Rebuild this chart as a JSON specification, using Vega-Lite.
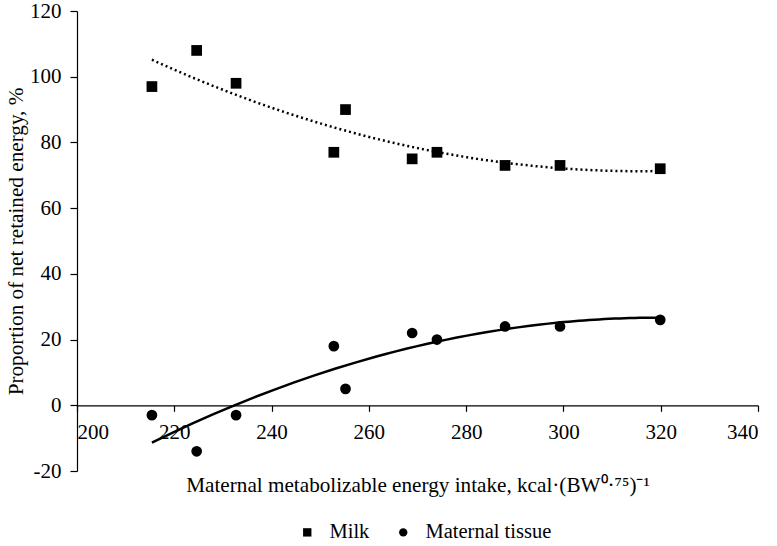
{
  "$schema": "https://vega.github.io/schema/vega-lite/v6.json",
  "width": 681,
  "height": 460,
  "autosize": {"type": "none"},
  "padding": {"left": 77, "top": 11, "right": 19, "bottom": 75},
  "background": "white",
  "config": {
    "view": {"stroke": null},
    "font": "Liberation Serif",
    "axis": {"grid": false, "domainColor": "#000", "tickColor": "#000", "labelColor": "#000", "titleColor": "#000", "labelFont": "Liberation Serif", "titleFont": "Liberation Serif", "labelFontSize": 21, "titleFontSize": 21.2, "titleFontWeight": "normal", "domainWidth": 1.2, "tickWidth": 1.2},
    "legend": {"labelFont": "Liberation Serif", "labelFontSize": 20.5, "labelColor": "#000"}
  },
  "data": {
    "values": [
      {"x": 215.4, "y": 97, "series": "Milk"},
      {"x": 224.6, "y": 108, "series": "Milk"},
      {"x": 232.7, "y": 98, "series": "Milk"},
      {"x": 252.8, "y": 77, "series": "Milk"},
      {"x": 255.2, "y": 90, "series": "Milk"},
      {"x": 268.9, "y": 75, "series": "Milk"},
      {"x": 274.0, "y": 77, "series": "Milk"},
      {"x": 288.0, "y": 73, "series": "Milk"},
      {"x": 299.3, "y": 73, "series": "Milk"},
      {"x": 319.9, "y": 72, "series": "Milk"},
      {"x": 215.4, "y": -3, "series": "Maternal tissue"},
      {"x": 224.6, "y": -14, "series": "Maternal tissue"},
      {"x": 232.7, "y": -3, "series": "Maternal tissue"},
      {"x": 252.8, "y": 18, "series": "Maternal tissue"},
      {"x": 255.2, "y": 5, "series": "Maternal tissue"},
      {"x": 268.9, "y": 22, "series": "Maternal tissue"},
      {"x": 274.0, "y": 20, "series": "Maternal tissue"},
      {"x": 288.0, "y": 24, "series": "Maternal tissue"},
      {"x": 299.3, "y": 24, "series": "Maternal tissue"},
      {"x": 319.9, "y": 26, "series": "Maternal tissue"}
    ]
  },
  "layer": [
    {
      "transform": [
        {"filter": "datum.series === 'Milk'"},
        {"regression": "y", "on": "x", "method": "poly", "order": 2}
      ],
      "mark": {"type": "line", "color": "#000", "strokeWidth": 2.5, "strokeDash": [2, 3]},
      "encoding": {
        "x": {"field": "x", "type": "quantitative"},
        "y": {"field": "y", "type": "quantitative"}
      }
    },
    {
      "transform": [
        {"filter": "datum.series === 'Maternal tissue'"},
        {"regression": "y", "on": "x", "method": "poly", "order": 2}
      ],
      "mark": {"type": "line", "color": "#000", "strokeWidth": 2.5},
      "encoding": {
        "x": {"field": "x", "type": "quantitative"},
        "y": {"field": "y", "type": "quantitative"}
      }
    },
    {
      "mark": {"type": "point", "filled": true, "opacity": 1, "color": "#000", "size": 115},
      "encoding": {
        "x": {
          "field": "x", "type": "quantitative",
          "scale": {"domain": [200, 340], "nice": false, "zero": false},
          "axis": {"values": [200, 220, 240, 260, 280, 300, 320, 340], "offset": -65.7, "tickSize": 6, "labelPadding": 10, "titlePadding": 32,
            "title": "Maternal metabolizable energy intake, kcal·(BW⁰·⁷⁵)⁻¹"}
        },
        "y": {
          "field": "y", "type": "quantitative",
          "scale": {"domain": [-20, 120], "nice": false, "zero": false},
          "axis": {"values": [-20, 0, 20, 40, 60, 80, 100, 120], "labelExpr": "'' + datum.value", "tickSize": 7, "labelPadding": 9, "titlePadding": 3,
            "title": "Proportion of net retained energy, %"}
        },
        "shape": {
          "field": "series", "type": "nominal",
          "scale": {"domain": ["Milk", "Maternal tissue"], "range": ["square", "circle"]},
          "legend": {"title": null, "orient": "none", "direction": "horizontal", "legendX": 220, "legendY": 511, "symbolSize": 70, "symbolFillColor": "#000", "symbolStrokeColor": "#000", "symbolOpacity": 1, "labelOffset": 12, "columnPadding": 23}
        }
      }
    }
  ]
}
